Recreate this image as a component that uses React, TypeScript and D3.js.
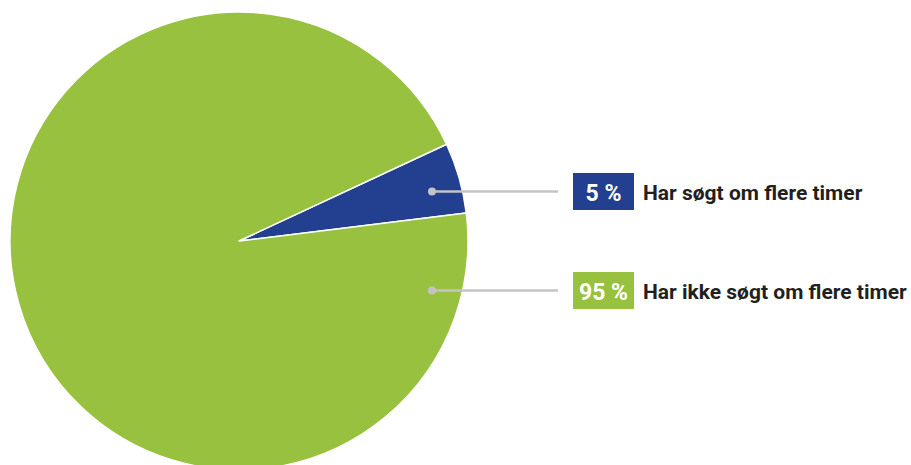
import React from "react";
import * as d3 from "d3";

const categories = ["Har søgt om flere timer", "Har ikke søgt om flere timer"];
const values = [5, 95];
const valueLabels = ["5 %", "95 %"];
const colors = ["#233F8F", "#97C13F"];

export default function App() {
  const width = 911;
  const height = 465;
  const cx = 239;
  const cy = 241;
  const r = 229;
  const start = (65 * Math.PI) / 180;
  const pie = d3
    .pie<number>()
    .sort(null)
    .value((d) => d)
    .startAngle(start)
    .endAngle(start + 2 * Math.PI);
  const arcs = pie(values);
  const arc = d3.arc<d3.PieArcDatum<number>>().innerRadius(0).outerRadius(r);
  const rowY = [191.5, 290.5];
  const dotX = cx + 193;
  const lineEnd = 558;
  const boxX = 573;
  const boxW = 61;
  const boxH = 37;
  return (
    <svg
      width={width}
      height={height}
      style={{ position: "absolute", left: 0, top: 0 }}
    >
      <g transform={`translate(${cx},${cy})`}>
        {arcs.map((a, i) => (
          <path
            key={i}
            d={arc(a) || ""}
            fill={colors[i]}
            stroke="#ffffff"
            strokeWidth={1.5}
            strokeLinejoin="round"
          />
        ))}
      </g>
      {categories.map((c, i) => (
        <g key={c}>
          <line
            x1={dotX}
            x2={lineEnd}
            y1={rowY[i]}
            y2={rowY[i]}
            stroke="#c4c4c7"
            strokeWidth={2.5}
          />
          <circle cx={dotX} cy={rowY[i]} r={4} fill="#c4c4c7" />
          <rect
            x={boxX}
            y={rowY[i] - boxH / 2}
            width={boxW}
            height={boxH}
            fill={colors[i]}
          />
          <text
            x={boxX + boxW / 2}
            y={rowY[i] + 9}
            textAnchor="middle"
            fill="#ffffff"
            fontFamily="Roboto, sans-serif"
            fontWeight={700}
            fontSize={23}
          >
            {valueLabels[i]}
          </text>
          <text
            x={643}
            y={rowY[i] + 8.5}
            fill="#231f20"
            fontFamily="Roboto, sans-serif"
            fontWeight={700}
            fontSize={21}
          >
            {c}
          </text>
        </g>
      ))}
    </svg>
  );
}
